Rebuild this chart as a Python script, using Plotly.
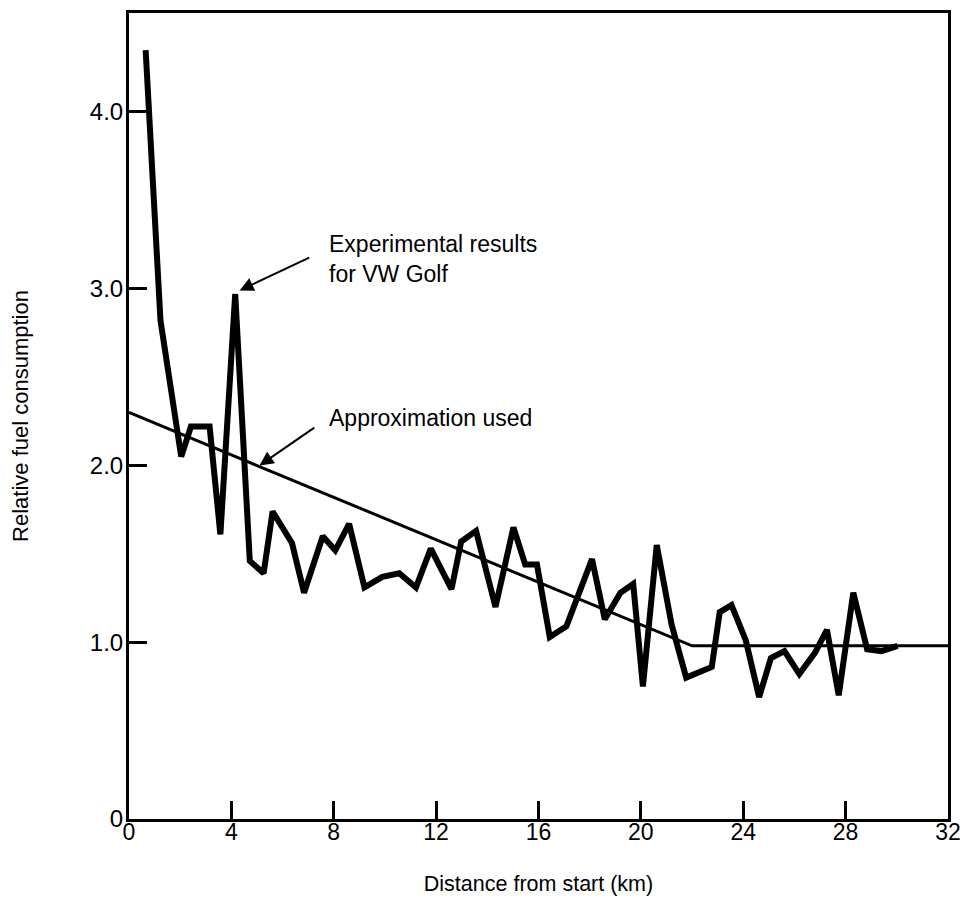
import plotly.graph_objects as go

exp_km = [0.65, 1.23, 2.04, 2.42, 3.15, 3.57, 4.15, 4.72, 5.26, 5.61, 6.37, 6.84,
          7.57, 8.06, 8.6, 9.2, 9.9, 10.56, 11.21, 11.79, 12.6, 12.98, 13.56, 14.32,
          15.02, 15.48, 15.94, 16.44, 17.09, 18.09, 18.59, 19.2, 19.7, 20.08, 20.62,
          21.2, 21.77, 22.77, 23.08, 23.54, 24.1, 24.62, 25.08, 25.61, 26.19, 26.8,
          27.27, 27.73, 28.3, 28.84, 29.4, 30.03]
exp_fuel = [4.35, 2.82, 2.05, 2.22, 2.22, 1.61, 2.97, 1.46, 1.39, 1.74, 1.56, 1.28,
            1.60, 1.52, 1.67, 1.31, 1.37, 1.39, 1.31, 1.53, 1.30, 1.57, 1.63, 1.20,
            1.65, 1.44, 1.44, 1.03, 1.09, 1.47, 1.13, 1.28, 1.33, 0.75, 1.55,
            1.10, 0.80, 0.86, 1.17, 1.21, 1.01, 0.69, 0.91, 0.95, 0.82, 0.94,
            1.07, 0.70, 1.28, 0.96, 0.95, 0.98]

# Approximation used
approx_km = [0, 22, 32]
approx_fuel = [2.30, 0.98, 0.98]

x_ticks = [0, 4, 8, 12, 16, 20, 24, 28, 32]
y_ticks = [0, 1, 2, 3, 4]
y_tick_labels = ["0", "1.0", "2.0", "3.0", "4.0"]

FONT = "Liberation Sans, Arial, sans-serif"

fig = go.Figure()
fig.add_trace(go.Scatter(x=approx_km, y=approx_fuel, mode="lines",
                         line=dict(color="black", width=3), showlegend=False))
fig.add_trace(go.Scatter(x=exp_km, y=exp_fuel, mode="lines",
                         line=dict(color="black", width=6), showlegend=False))

axis_common = dict(showgrid=False, zeroline=False, showline=True, linecolor="black",
                   linewidth=3, mirror=True, ticks="inside", ticklen=18, tickwidth=3,
                   tickcolor="black", ticklabeloverflow="allow")

fig.update_xaxes(range=[0, 32], tickvals=x_ticks, ticktext=[str(t) for t in x_ticks],
                 ticklabelstandoff=-10,
                 tickfont=dict(family=FONT, size=23, color="black"),
                 title=dict(text="Distance from start (km)",
                            font=dict(family=FONT, size=21.5, color="black"), standoff=33),
                 **axis_common)
fig.update_yaxes(range=[0, 4.56], tickvals=y_ticks, ticktext=y_tick_labels,
                 ticklabelstandoff=-2,
                 tickfont=dict(family=FONT, size=24, color="black"),
                 title=dict(text="Relative fuel consumption",
                            font=dict(family=FONT, size=22, color="black"), standoff=60),
                 **axis_common)

annots = [
    dict(x=7.75, y=3.17, xref="x", yref="y", text="Experimental results<br>for VW Golf",
         showarrow=False, xanchor="left", yanchor="middle", align="left",
         font=dict(family=FONT, size=23, color="black")),
    dict(x=7.75, y=2.27, xref="x", yref="y", text="Approximation used",
         showarrow=False, xanchor="left", yanchor="middle", align="left",
         font=dict(family=FONT, size=23, color="black")),
    dict(x=4.32, y=2.99, ax=7.1, ay=3.18, xref="x", yref="y", axref="x", ayref="y",
         text="", showarrow=True, arrowhead=2, arrowsize=1.4, arrowwidth=2,
         arrowcolor="black"),
    dict(x=5.1, y=2.0, ax=7.3, ay=2.22, xref="x", yref="y", axref="x", ayref="y",
         text="", showarrow=True, arrowhead=2, arrowsize=1.4, arrowwidth=2,
         arrowcolor="black"),
]
fig.update_layout(annotations=annots, width=955, height=897,
                  margin=dict(l=121, r=13, t=2, b=86),
                  plot_bgcolor="white", paper_bgcolor="white",
                  font=dict(family=FONT, color="black"))

fig.write_html("out.html")
